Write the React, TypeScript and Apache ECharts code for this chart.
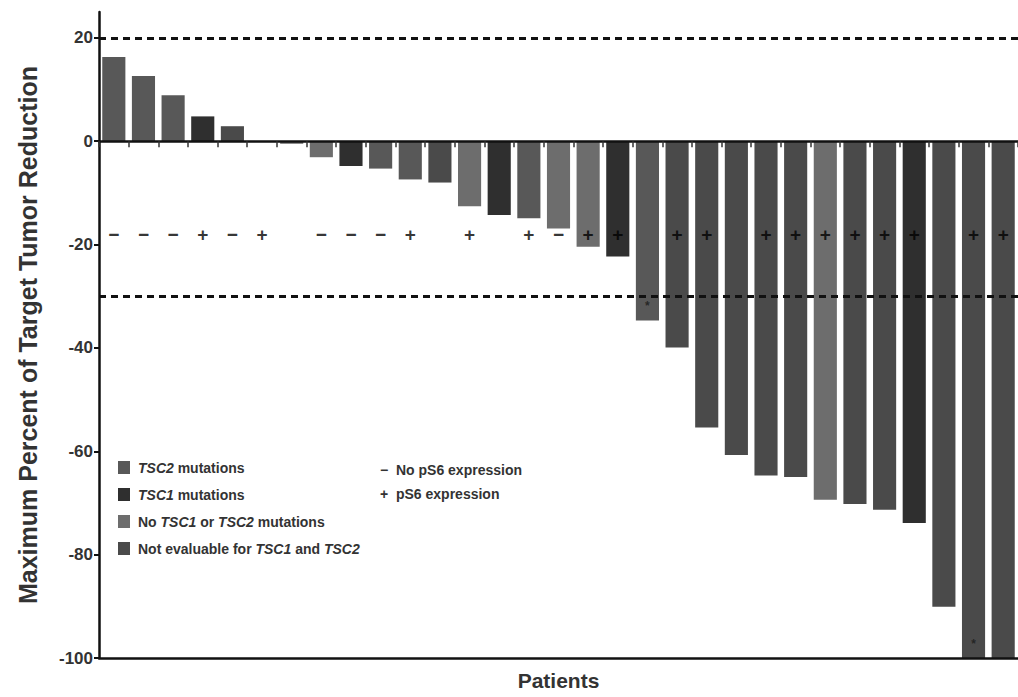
import React, { useEffect, useRef } from "react";
import * as echarts from "echarts";

// ---- Data ----
const patients = [
  "P1", "P2", "P3", "P4", "P5", "P6", "P7", "P8", "P9", "P10",
  "P11", "P12", "P13", "P14", "P15", "P16", "P17", "P18", "P19", "P20",
  "P21", "P22", "P23", "P24", "P25", "P26", "P27", "P28", "P29", "P30", "P31",
];

// maximum percent change of target tumour (negative = reduction)
const tumorChange = [
  16.3, 12.6, 8.9, 4.8, 2.9, 0, -0.5, -3.1, -4.8, -5.3,
  -7.4, -8.0, -12.6, -14.3, -14.9, -16.9, -20.4, -22.3, -34.7, -39.9,
  -55.4, -60.7, -64.7, -65.0, -69.4, -70.2, -71.3, -73.9, -90.1, -100, -100,
];

// 0 = TSC2 mutations, 1 = TSC1 mutations, 2 = No TSC1 or TSC2 mutations, 3 = Not evaluable
const mutationGroup = [
  0, 0, 0, 1, 3, 3, 2, 2, 1, 0,
  0, 3, 2, 1, 0, 2, 2, 1, 0, 3,
  3, 3, 3, 3, 2, 3, 3, 1, 3, 3, 3,
];

const groupNames = [
  "TSC2 mutations",
  "TSC1 mutations",
  "No TSC1 or TSC2 mutations",
  "Not evaluable for TSC1 and TSC2",
];

// pS6 expression per patient ("−" none, "+" expressed, "" not shown)
const pS6 = [
  "−", "−", "−", "+", "−", "+", "", "−", "−", "−",
  "+", "", "+", "", "+", "−", "+", "+", "", "+",
  "+", "", "+", "+", "+", "+", "+", "+", "", "+", "+",
];
const pS6Level = -18;

// patients with an asterisk near the bar end
const flaggedPatients = [18, 29];

const referenceLines = [20, -30];
const yTicks = [-100, -80, -60, -40, -20, 0, 20];

// ---- Styles ----
const groupColors = ["#585858", "#2f2f2f", "#6d6d6d", "#4a4a4a"];
const FONT = "'Liberation Sans', Arial, Helvetica, sans-serif";

const legendFormat: Record<string, string> = {
  "TSC2 mutations": "{i|TSC2}{n| mutations}",
  "TSC1 mutations": "{i|TSC1}{n| mutations}",
  "No TSC1 or TSC2 mutations": "{n|No }{i|TSC1}{n| or }{i|TSC2}{n| mutations}",
  "Not evaluable for TSC1 and TSC2": "{n|Not evaluable for }{i|TSC1}{n| and }{i|TSC2}",
};

export default function App() {
  const ref = useRef<HTMLDivElement>(null);

  useEffect(() => {
    if (!ref.current) return;
    const chart = echarts.init(ref.current, undefined, { renderer: "svg" });

    const barSeries = groupNames.map((name, g) => ({
      name,
      type: "bar",
      xAxisIndex: 0,
      yAxisIndex: 0,
      barWidth: "78%",
      barGap: "-100%",
      itemStyle: { color: groupColors[g] },
      data: tumorChange.map((v, i) => (mutationGroup[i] === g ? v : null)),
      ...(g === 0
        ? {
            markLine: {
              silent: true,
              symbol: ["none", "none"],
              label: { show: false },
              lineStyle: { color: "#111", width: 3, type: [7, 5] },
              data: referenceLines.map((y) => ({ yAxis: y })),
            },
          }
        : {}),
    }));

    const signData = pS6
      .map((s, i) => (s ? [i, pS6Level, s] : null))
      .filter((d) => d !== null);

    const flagData = flaggedPatients.map((i) => [i, tumorChange[i] + 2.8, "*"]);

    const option: any = {
      animation: false,
      backgroundColor: "#ffffff",
      grid: { left: 99, right: 0, top: 12, bottom: 39, outerBoundsMode: "none", containLabel: false },
      legend: {
        show: true,
        orient: "vertical",
        left: 113,
        top: 454,
        itemWidth: 12,
        itemHeight: 13,
        itemGap: 10,
        icon: "rect",
        selectedMode: false,
        data: groupNames,
        formatter: (name: string) => legendFormat[name] || name,
        textStyle: {
          fontFamily: FONT,
          fontSize: 14,
          color: "#333",
          lineHeight: 17,
          padding: [0, 0, 0, 3],
          rich: {
            n: { fontFamily: FONT, fontSize: 14, fontWeight: "bold", color: "#333" },
            i: { fontFamily: FONT, fontSize: 14, fontWeight: "bold", fontStyle: "italic", color: "#333" },
          },
        },
      },
      xAxis: [
        {
          type: "category",
          data: patients,
          position: "top",
          z: 10,
          axisLine: { show: true, onZero: true, lineStyle: { color: "#111", width: 2.5 } },
          axisTick: { show: true, inside: true, length: 6, lineStyle: { color: "#333", width: 1.5 } },
          axisLabel: { show: false },
          splitLine: { show: false },
        },
        {
          type: "category",
          data: patients,
          position: "bottom",
          z: 10,
          axisLine: { show: true, onZero: false, lineStyle: { color: "#111", width: 2.5 } },
          axisTick: { show: false },
          axisLabel: { show: false },
          splitLine: { show: false },
          name: "Patients",
          nameLocation: "middle",
          nameGap: 12,
          nameTextStyle: { fontFamily: FONT, fontSize: 21, fontWeight: "bold", color: "#333" },
        },
      ],
      yAxis: {
        type: "value",
        min: -100,
        max: 25,
        z: 10,
        axisLine: { show: true, lineStyle: { color: "#111", width: 2.5 } },
        axisTick: { show: true, length: 5, lineStyle: { color: "#111", width: 2 }, customValues: yTicks },
        axisLabel: {
          customValues: yTicks,
          fontFamily: FONT,
          fontSize: 17,
          fontWeight: "bold",
          color: "#333",
          margin: 6,
        },
        splitLine: { show: false },
        name: "Maximum Percent of Target Tumor Reduction",
        nameLocation: "middle",
        nameRotate: 90,
        nameGap: 59,
        nameTextStyle: { fontFamily: FONT, fontSize: 25, fontWeight: "bold", color: "#333" },
      },
      graphic: [
        {
          type: "text",
          left: 380,
          top: 463,
          style: { text: "−  No pS6 expression", font: `bold 14px ${FONT}`, fill: "#333" },
        },
        {
          type: "text",
          left: 380,
          top: 487,
          style: { text: "+  pS6 expression", font: `bold 14px ${FONT}`, fill: "#333" },
        },
      ],
      series: [
        ...barSeries,
        {
          name: "pS6",
          type: "scatter",
          xAxisIndex: 0,
          yAxisIndex: 0,
          symbolSize: 1,
          itemStyle: { color: "transparent" },
          z: 5,
          label: {
            show: true,
            position: "inside",
            formatter: (p: any) => p.data[2],
            fontFamily: FONT,
            fontSize: 19,
            fontWeight: "bold",
            color: "#000",
          },
          data: signData,
        },
        {
          name: "flag",
          type: "scatter",
          xAxisIndex: 0,
          yAxisIndex: 0,
          symbolSize: 1,
          itemStyle: { color: "transparent" },
          z: 5,
          label: {
            show: true,
            position: "inside",
            formatter: (p: any) => p.data[2],
            fontFamily: FONT,
            fontSize: 12,
            fontWeight: "bold",
            color: "#1a1a1a",
          },
          data: flagData,
        },
      ],
    };

    chart.setOption(option);
    return () => chart.dispose();
  }, []);

  return (
    <div
      ref={ref}
      style={{ position: "fixed", left: 0, top: 0, width: 1018, height: 697, background: "#fff" }}
    />
  );
}
